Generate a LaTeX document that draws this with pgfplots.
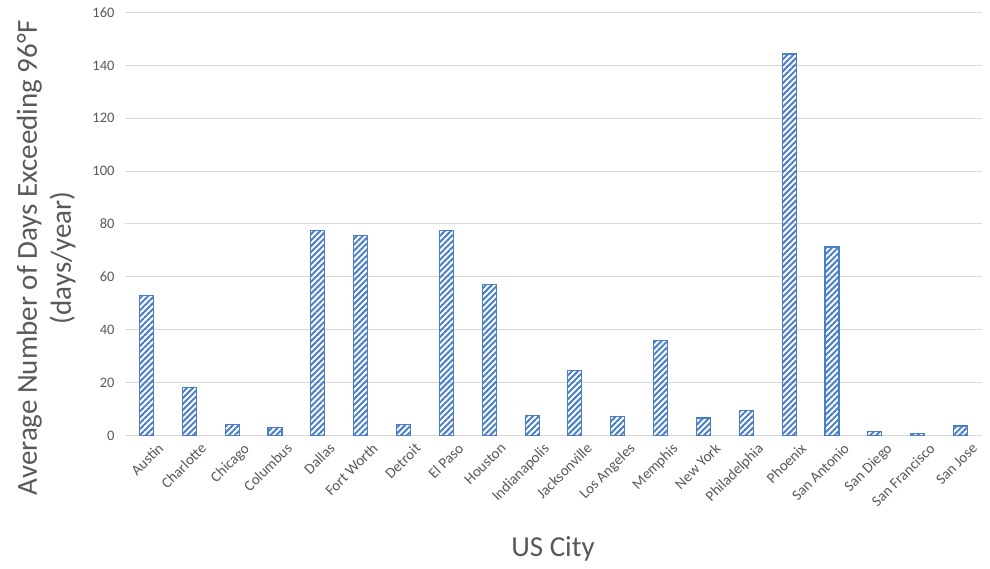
\documentclass[border=0pt]{standalone}
\usepackage{fontspec}
\setmainfont{Carlito}
\usepackage{pgfplots}
\pgfplotsset{compat=1.18}
\usetikzlibrary{patterns.meta}
\definecolor{barblue}{HTML}{4A7EC8}
\definecolor{txt}{HTML}{595959}
\definecolor{gridc}{HTML}{D9D9D9}
\begin{document}
\begin{tikzpicture}[x=1bp,y=1bp]
\useasboundingbox (0,0) rectangle (990,569);
\begin{axis}[
  at={(125bp,133.5bp)}, anchor=south west,
  scale only axis, width=857bp, height=423bp,
  xmin=-0.5, xmax=19.5, ymin=0, ymax=160,
  ytick={0,20,...,160},
  xtick={0,...,19},
  xticklabels={Austin,Charlotte,Chicago,Columbus,Dallas,Fort Worth,Detroit,El Paso,Houston,Indianapolis,Jacksonville,Los Angeles,Memphis,New York,Philadelphia,Phoenix,San Antonio,San Diego,San Francisco,San Jose},
  ymajorgrids,
  major grid style={draw=gridc, line width=1bp},
  axis line style={draw=none},
  tick style={draw=none},
  /pgf/number format/assume math mode=true,
  yticklabel style={font=\fontsize{14.5bp}{16bp}\selectfont, text=txt, xshift=-7bp},
  xticklabel style={rotate=45, anchor=north east, inner sep=0pt, font=\fontsize{15bp}{17bp}\selectfont, text=txt, yshift=-12bp, xshift=3bp},
  ylabel={Average Number of Days Exceeding 96°F\\(days/year)},
  ylabel style={at={(axis description cs:-0.092,0.420)}, anchor=center, rotate=0, align=center, font=\fontsize{29bp}{34bp}\selectfont, text=txt},
  xlabel={US City},
  xlabel style={at={(axis description cs:0.4994,-0.287)}, anchor=base, font=\fontsize{29bp}{34bp}\selectfont, text=txt},
]
\addplot[ybar, bar width=14bp, draw=barblue, line width=1.1bp,
  pattern={Lines[angle=45, distance=4.2bp, line width=2bp]}, pattern color=barblue]
coordinates {
(0,53.0) (1,18.2) (2,4.1) (3,3.1) (4,77.5) (5,75.8) (6,4.1) (7,77.5) (8,57.0) (9,7.5)
(10,24.5) (11,7.1) (12,36.1) (13,6.6) (14,9.6) (15,144.3) (16,71.3) (17,1.4) (18,0.6) (19,3.6)
};
\end{axis}
\end{tikzpicture}
\end{document}
